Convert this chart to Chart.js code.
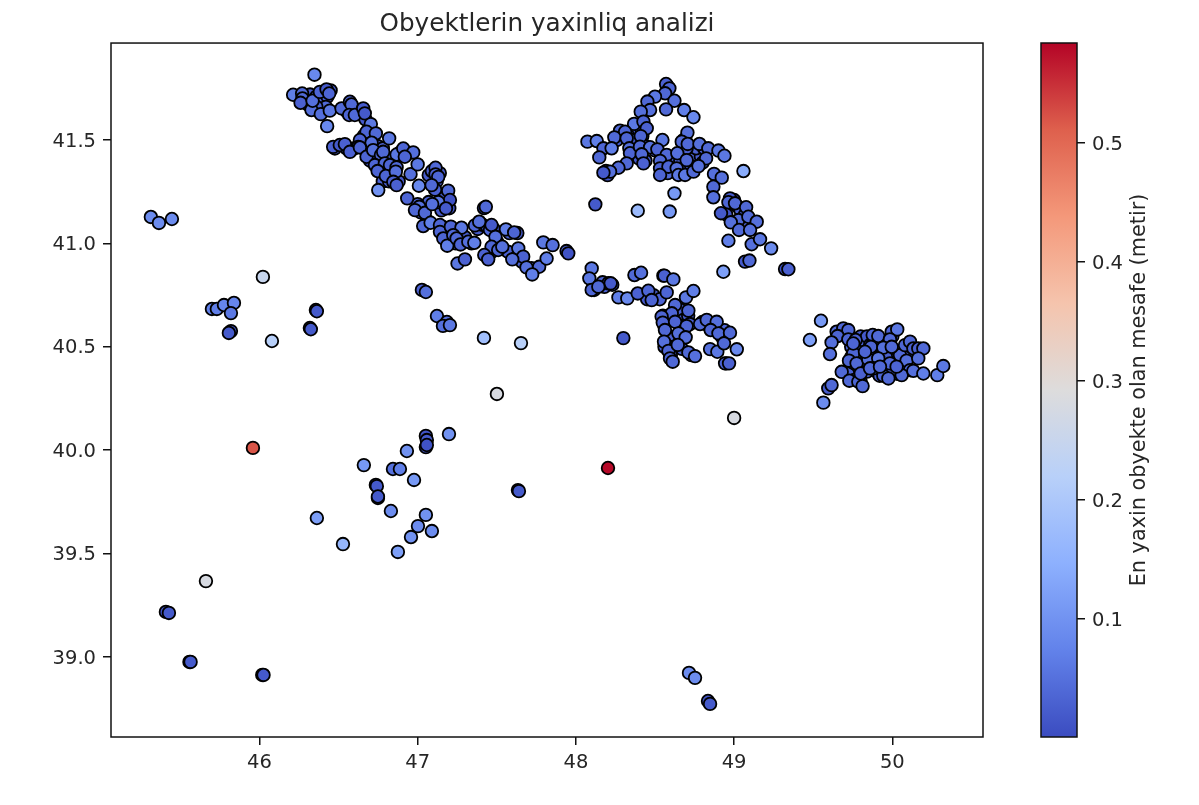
<!DOCTYPE html>
<html>
<head>
<meta charset="utf-8">
<title>Obyektlerin yaxinliq analizi</title>
<script src="https://cdn.jsdelivr.net/npm/chart.js@4"></script>
<style>
    html, body { margin: 0; padding: 0; background: #fff; overflow: hidden; }
    #mapChart { position: absolute; left: 0; top: 0; }
    #barChart { position: absolute; left: 1000px; top: 0; }
</style>
</head>
<body>
<canvas id="mapChart" width="1000" height="805"></canvas>
<canvas id="barChart" width="199" height="805"></canvas>
<script>
// Longitude, latitude, distance to nearest object
const northwestX = [
    46.348, 46.213, 46.270, 46.272, 46.260, 46.329, 46.336, 46.382, 46.424, 46.441,
    46.388, 46.445, 46.428, 46.519, 46.572, 46.582, 46.567, 46.603, 46.656, 46.666,
    46.704, 46.677, 46.736, 46.635, 46.624, 46.709, 46.820, 46.477, 46.466, 46.508,
    46.540, 46.572, 46.635, 46.677, 46.719, 46.768, 46.782, 46.867, 46.909, 46.972,
    46.919, 46.730, 46.793, 46.825, 46.867, 46.747, 46.799, 46.862, 46.846, 46.867,
    46.751, 46.955, 47.000, 47.113, 47.113, 47.130, 47.088, 47.008, 47.193, 47.204,
    46.934, 47.010, 46.983, 47.046, 47.130, 47.092, 47.179, 47.419, 47.431, 47.035,
    47.082, 47.141, 47.141, 47.162, 47.187, 47.210, 47.277, 47.225, 47.246, 47.271,
    47.320, 47.358, 47.362, 47.389, 47.457, 47.467, 47.492, 47.467, 47.509, 47.535,
    47.558, 47.610, 47.636, 47.667, 47.598, 47.421, 47.446, 47.252, 47.299, 47.688,
    47.768, 47.724, 47.815, 47.794, 47.853, 47.941, 47.952
];
const northwestY = [
    41.816, 41.719, 41.725, 41.701, 41.680, 41.645, 41.690, 41.733, 41.745, 41.725,
    41.625, 41.642, 41.567, 41.653, 41.685, 41.672, 41.621, 41.621, 41.653, 41.629,
    41.577, 41.540, 41.532, 41.500, 41.467, 41.487, 41.508, 41.459, 41.467, 41.476,
    41.480, 41.443, 41.464, 41.419, 41.451, 41.427, 41.443, 41.430, 41.459, 41.440,
    41.419, 41.379, 41.387, 41.379, 41.368, 41.350, 41.326, 41.347, 41.298, 41.282,
    41.258, 41.335, 41.382, 41.366, 41.334, 41.322, 41.282, 41.279, 41.255, 41.210,
    41.218, 41.177, 41.161, 41.148, 41.200, 41.190, 41.169, 41.171, 41.177, 41.084,
    41.100, 41.089, 41.056, 41.024, 40.989, 41.081, 41.076, 41.040, 41.024, 40.995,
    41.008, 41.003, 41.087, 41.105, 41.065, 41.089, 41.032, 40.984, 40.968, 40.984,
    41.068, 41.053, 40.976, 40.936, 40.923, 40.944, 40.923, 40.903, 40.923, 40.884,
    40.887, 40.850, 40.927, 41.005, 40.992, 40.963, 40.952
];
const northwestDist = [
    0.085, 0.07, 0.04, 0.04, 0.03, 0.05, 0.05, 0.035, 0.02, 0.035,
    0.05, 0.06, 0.085, 0.04, 0.03, 0.04, 0.035, 0.04, 0.02, 0.02,
    0.06, 0.035, 0.04, 0.03, 0.035, 0.05, 0.06, 0.02, 0.03, 0.02,
    0.03, 0.03, 0.035, 0.035, 0.05, 0.04, 0.04, 0.06, 0.035, 0.05,
    0.035, 0.035, 0.04, 0.035, 0.04, 0.035, 0.035, 0.05, 0.03, 0.03,
    0.10, 0.05, 0.06, 0.04, 0.03, 0.035, 0.04, 0.085, 0.04, 0.01,
    0.035, 0.05, 0.04, 0.04, 0.06, 0.05, 0.02, 0.02, 0.04, 0.04,
    0.07, 0.035, 0.035, 0.035, 0.07, 0.035, 0.06, 0.04, 0.04, 0.035,
    0.05, 0.07, 0.035, 0.05, 0.04, 0.02, 0.05, 0.035, 0.035, 0.05,
    0.07, 0.035, 0.06, 0.03, 0.05, 0.03, 0.03, 0.06, 0.03, 0.05,
    0.04, 0.07, 0.07, 0.06, 0.05, 0.03, 0.01
];

const northX = [
    48.570, 48.591, 48.564, 48.500, 48.452, 48.623, 48.469, 48.410, 48.570, 48.684,
    48.743, 48.368, 48.427, 48.448, 48.279, 48.311, 48.243, 48.321, 48.410, 48.547,
    48.705, 48.669, 48.073, 48.132, 48.174, 48.226, 48.148, 48.338, 48.342, 48.405,
    48.469, 48.515, 48.416, 48.574, 48.641, 48.707, 48.781, 48.837, 48.823, 48.700,
    48.901, 48.939, 48.427, 48.321, 48.269, 48.216, 48.174, 48.532, 48.532, 48.585,
    48.637, 48.532, 48.648, 48.690, 48.743, 48.775, 48.873, 48.922, 48.869, 48.869,
    49.059, 48.623, 48.391, 48.593, 48.123, 48.974, 48.964, 49.006, 49.076, 48.917,
    49.027, 48.979, 49.090, 49.143, 49.031, 49.101, 48.964, 49.111, 49.164, 49.234,
    49.069, 49.097, 49.322, 49.343, 48.932
];
const northY = [
    41.771, 41.750, 41.726, 41.710, 41.686, 41.690, 41.645, 41.637, 41.648, 41.645,
    41.610, 41.578, 41.589, 41.557, 41.545, 41.540, 41.513, 41.508, 41.519, 41.500,
    41.536, 41.492, 41.492, 41.495, 41.460, 41.460, 41.416, 41.460, 41.436, 41.468,
    41.465, 41.455, 41.431, 41.428, 41.436, 41.481, 41.481, 41.460, 41.411, 41.403,
    41.449, 41.424, 41.387, 41.387, 41.366, 41.347, 41.342, 41.399, 41.363, 41.371,
    41.363, 41.331, 41.331, 41.331, 41.347, 41.374, 41.336, 41.318, 41.274, 41.223,
    41.350, 41.242, 41.158, 41.154, 41.189, 41.218, 41.199, 41.194, 41.175, 41.146,
    41.113, 41.102, 41.129, 41.105, 41.065, 41.065, 41.013, 40.996, 41.020, 40.976,
    40.912, 40.917, 40.876, 40.875, 40.863
];
const northDist = [
    0.03, 0.035, 0.04, 0.06, 0.04, 0.05, 0.05, 0.05, 0.04, 0.07,
    0.085, 0.06, 0.035, 0.03, 0.04, 0.035, 0.04, 0.035, 0.035, 0.06,
    0.05, 0.04, 0.06, 0.07, 0.035, 0.07, 0.04, 0.05, 0.035, 0.04,
    0.05, 0.035, 0.04, 0.04, 0.05, 0.04, 0.05, 0.04, 0.04, 0.04,
    0.06, 0.06, 0.03, 0.04, 0.04, 0.05, 0.02, 0.04, 0.03, 0.035,
    0.05, 0.035, 0.06, 0.06, 0.04, 0.05, 0.05, 0.05, 0.04, 0.05,
    0.14, 0.11, 0.17, 0.11, 0.02, 0.02, 0.035, 0.04, 0.04, 0.02,
    0.04, 0.05, 0.04, 0.05, 0.04, 0.05, 0.07, 0.05, 0.06, 0.09,
    0.02, 0.04, 0.01, 0.03, 0.12
];

const centralX = [
    48.100, 48.085, 48.115, 48.100, 48.169, 48.205, 48.220, 48.142, 48.269, 48.325,
    48.370, 48.412, 48.553, 48.559, 48.616, 48.391, 48.458, 48.479, 48.574, 48.696,
    48.743, 48.300, 48.627, 48.606, 48.711, 48.542, 48.549, 48.563, 48.627, 48.700,
    48.785, 48.827, 48.890, 48.852, 48.901, 48.974, 48.648, 48.694, 48.557, 48.585,
    48.644, 48.711, 48.753, 48.595, 48.612, 48.848, 48.894, 48.936, 49.017, 48.943,
    48.968
];
const centralY = [
    40.879, 40.831, 40.775, 40.775, 40.812, 40.807, 40.807, 40.791, 40.739, 40.734,
    40.847, 40.858, 40.844, 40.844, 40.826, 40.758, 40.771, 40.726, 40.763, 40.739,
    40.770, 40.542, 40.702, 40.662, 40.675, 40.646, 40.617, 40.581, 40.621, 40.600,
    40.610, 40.630, 40.621, 40.581, 40.565, 40.568, 40.565, 40.546, 40.525, 40.480,
    40.509, 40.473, 40.455, 40.444, 40.428, 40.489, 40.476, 40.517, 40.488, 40.420,
    40.420
];
const centralDist = [
    0.06, 0.06, 0.03, 0.035, 0.035, 0.03, 0.02, 0.04, 0.07, 0.085,
    0.04, 0.05, 0.02, 0.03, 0.06, 0.03, 0.035, 0.035, 0.035, 0.06,
    0.07, 0.02, 0.04, 0.035, 0.035, 0.035, 0.035, 0.04, 0.035, 0.035,
    0.04, 0.04, 0.05, 0.035, 0.04, 0.04, 0.05, 0.05, 0.05, 0.035,
    0.04, 0.04, 0.05, 0.035, 0.04, 0.05, 0.06, 0.04, 0.085, 0.03,
    0.03
];

const eastX = [
    49.549, 49.479, 49.648, 49.690, 49.722, 49.654, 49.616, 49.606, 49.722, 49.768,
    49.876, 49.911, 49.996, 50.031, 49.985, 49.785, 49.865, 49.943, 49.753, 49.726,
    49.774, 49.848, 49.911, 49.985, 50.048, 50.090, 50.080, 50.112, 50.133, 50.164,
    50.196, 50.164, 50.112, 49.680, 49.728, 49.785, 49.800, 49.880, 49.943, 49.975,
    50.059, 50.133, 50.196, 50.284, 50.322, 49.812, 49.595, 49.616, 49.564, 49.996,
    49.859, 50.027, 49.753, 49.827, 49.922
];
const eastY = [
    40.626, 40.533, 40.573, 40.589, 40.581, 40.552, 40.521, 40.465, 40.536, 40.533,
    40.557, 40.552, 40.573, 40.584, 40.536, 40.476, 40.500, 40.496, 40.468, 40.433,
    40.420, 40.439, 40.444, 40.420, 40.460, 40.433, 40.508, 40.525, 40.492, 40.492,
    40.492, 40.444, 40.387, 40.379, 40.336, 40.331, 40.371, 40.396, 40.360, 40.347,
    40.363, 40.384, 40.371, 40.363, 40.407, 40.310, 40.299, 40.315, 40.230, 40.500,
    40.396, 40.404, 40.516, 40.476, 40.404
];
const eastDist = [
    0.11, 0.12, 0.04, 0.035, 0.035, 0.035, 0.05, 0.05, 0.035, 0.03,
    0.035, 0.04, 0.035, 0.06, 0.04, 0.04, 0.035, 0.05, 0.035, 0.035,
    0.04, 0.05, 0.06, 0.04, 0.04, 0.05, 0.035, 0.04, 0.03, 0.03,
    0.04, 0.05, 0.04, 0.04, 0.04, 0.035, 0.03, 0.05, 0.035, 0.04,
    0.04, 0.05, 0.07, 0.07, 0.06, 0.04, 0.02, 0.04, 0.09, 0.04,
    0.04, 0.035, 0.035, 0.035, 0.04
];

const scatterX = [
    45.314, 45.365, 45.447, 45.700, 45.731, 45.776, 45.839, 45.820, 45.820, 45.807,
    46.022, 46.079, 46.357, 46.363, 46.319, 46.325, 47.027, 47.052, 47.122, 47.185,
    47.160, 47.204, 47.419, 47.653, 47.501, 49.000, 45.959, 48.203, 47.052, 47.058,
    47.052, 47.058, 47.198, 46.932, 46.660, 46.844, 46.888, 46.977, 46.736, 46.742,
    46.749, 46.749, 46.831, 47.052, 47.002, 47.090, 46.958, 46.875, 46.363, 46.528,
    47.634, 47.640, 45.662, 45.409, 45.428, 45.558, 45.565, 46.018, 46.026, 48.715,
    48.753, 48.835, 48.848
];
const scatterY = [
    41.128, 41.099, 41.118, 40.683, 40.683, 40.702, 40.712, 40.663, 40.576, 40.567,
    40.838, 40.528, 40.678, 40.672, 40.591, 40.585, 40.775, 40.765, 40.649, 40.620,
    40.601, 40.605, 40.543, 40.518, 40.272, 40.156, 40.011, 39.914, 40.069, 40.049,
    40.015, 40.025, 40.078, 39.996, 39.928, 39.909, 39.909, 39.856, 39.832, 39.826,
    39.769, 39.776, 39.706, 39.687, 39.633, 39.609, 39.580, 39.508, 39.672, 39.546,
    39.807, 39.802, 39.367, 39.218, 39.213, 38.976, 38.976, 38.913, 38.913, 38.923,
    38.899, 38.787, 38.773
];
const scatterDist = [
    0.09, 0.09, 0.09, 0.07, 0.07, 0.08, 0.08, 0.06, 0.01, 0.02,
    0.25, 0.22, 0.01, 0.02, 0.01, 0.02, 0.03, 0.05, 0.07, 0.05,
    0.05, 0.06, 0.18, 0.22, 0.28, 0.28, 0.52, 0.58, 0.01, 0.02,
    0.02, 0.01, 0.10, 0.10, 0.11, 0.05, 0.07, 0.11, 0.01, 0.02,
    0.01, 0.02, 0.09, 0.10, 0.09, 0.09, 0.10, 0.12, 0.12, 0.16,
    0.01, 0.02, 0.28, 0.01, 0.02, 0.01, 0.02, 0.01, 0.02, 0.09,
    0.09, 0.01, 0.02
];

// Objects mostly hidden under others in the dense clusters, drawn first
const hiddenX = [
    46.30, 46.32, 46.36, 46.40, 46.43, 46.45, 46.42, 46.36, 46.31, 46.55,
    46.60, 46.63, 46.65, 46.67, 46.69, 46.72, 46.66, 46.68, 46.60, 46.55,
    46.75, 46.78, 46.80, 46.84, 46.89, 46.93, 46.70, 46.74, 46.76, 46.79,
    46.83, 46.85, 46.88, 46.78, 46.82, 47.07, 47.09, 47.14, 47.12, 47.11,
    47.17, 47.19, 47.20, 47.15, 47.07, 47.02, 47.00, 47.06, 47.16, 47.19,
    47.21, 47.24, 47.30, 47.34, 47.38, 47.41, 47.44, 47.48, 47.50, 47.52,
    47.47, 47.57, 47.62, 47.66, 47.63, 47.58, 47.72,
    48.38, 48.33, 48.28, 48.26, 48.35, 48.37, 48.40, 48.44, 48.41, 48.42,
    48.44, 48.50, 48.54, 48.56, 48.56, 48.54, 48.59, 48.60, 48.58, 48.62,
    48.66, 48.68, 48.71, 48.73, 48.75, 48.79, 48.80, 48.76, 48.68, 48.70,
    48.81, 48.20, 48.19, 48.58, 49.00, 49.02, 49.04, 49.08, 49.07, 49.10,
    49.05, 48.95,
    48.11, 48.18, 48.23, 48.47, 48.45, 48.49, 48.53, 48.60, 48.62, 48.64,
    48.66, 48.68, 48.71, 48.66, 48.68, 48.72, 48.80, 48.84, 48.92, 48.94,
    48.60, 48.62, 48.66, 48.67, 48.73, 48.56, 48.55, 48.56, 48.60, 48.95,
    49.66, 49.69, 49.72, 49.74, 49.78, 49.80, 49.82, 49.84, 49.86, 49.88,
    49.92, 49.95, 49.97, 50.00, 49.78, 49.82, 49.75, 49.79, 49.84, 49.87,
    49.90, 49.93, 49.95, 50.00, 50.02, 50.05, 50.08, 50.10, 50.12, 50.18,
    50.03, 49.98, 49.72, 49.76, 49.80, 49.74, 49.76, 49.92, 49.96
];
const hiddenY = [
    41.70, 41.72, 41.71, 41.69, 41.71, 41.74, 41.66, 41.66, 41.67, 41.64,
    41.65, 41.64, 41.62, 41.60, 41.55, 41.52, 41.52, 41.49, 41.46, 41.46,
    41.47, 41.46, 41.41, 41.41, 41.44, 41.43, 41.40, 41.41, 41.37, 41.35,
    41.35, 41.33, 41.30, 41.30, 41.30, 41.33, 41.35, 41.34, 41.30, 41.26,
    41.22, 41.19, 41.17, 41.16, 41.20, 41.15, 41.19, 41.11, 41.08, 41.05,
    41.02, 41.00, 41.03, 41.00, 41.07, 41.09, 41.08, 41.07, 41.01, 40.99,
    40.96, 40.96, 40.93, 40.91, 41.05, 41.05, 40.88,
    41.53, 41.52, 41.52, 41.50, 41.50, 41.44, 41.41, 41.40, 41.56, 41.52,
    41.47, 41.45, 41.42, 41.40, 41.37, 41.35, 41.40, 41.35, 41.34, 41.39,
    41.40, 41.36, 41.40, 41.37, 41.43, 41.42, 41.39, 41.46, 41.50, 41.46,
    41.46, 41.33, 41.35, 41.76, 41.21, 41.18, 41.16, 41.11, 41.14, 41.10,
    41.09, 41.14,
    40.79, 40.79, 40.80, 40.74, 40.73, 40.75, 40.73, 40.64, 40.67, 40.65,
    40.68, 40.63, 40.65, 40.60, 40.60, 40.61, 40.62, 40.60, 40.55, 40.58,
    40.54, 40.50, 40.53, 40.49, 40.46, 40.60, 40.65, 40.50, 40.46, 40.42,
    40.56, 40.57, 40.56, 40.50, 40.50, 40.55, 40.52, 40.55, 40.51, 40.52,
    40.53, 40.52, 40.53, 40.55, 40.44, 40.43, 40.40, 40.38, 40.38, 40.46,
    40.38, 40.44, 40.40, 40.38, 40.44, 40.41, 40.40, 40.47, 40.50, 40.49,
    40.37, 40.37, 40.37, 40.34, 40.33, 40.45, 40.42, 40.36, 40.45
];
const hiddenDist = [
    0.03, 0.02, 0.03, 0.03, 0.02, 0.02, 0.04, 0.03, 0.03, 0.02,
    0.02, 0.01, 0.01, 0.02, 0.03, 0.02, 0.03, 0.02, 0.02, 0.01,
    0.02, 0.03, 0.02, 0.03, 0.03, 0.03, 0.02, 0.02, 0.03, 0.02,
    0.02, 0.02, 0.02, 0.03, 0.03, 0.02, 0.03, 0.02, 0.03, 0.03,
    0.02, 0.01, 0.02, 0.02, 0.03, 0.03, 0.03, 0.03, 0.03, 0.03,
    0.03, 0.02, 0.02, 0.03, 0.02, 0.03, 0.01, 0.02, 0.03, 0.02,
    0.03, 0.03, 0.02, 0.03, 0.02, 0.03, 0.05,
    0.02, 0.02, 0.02, 0.02, 0.02, 0.03, 0.02, 0.02, 0.02, 0.03,
    0.04, 0.04, 0.03, 0.02, 0.03, 0.03, 0.03, 0.04, 0.04, 0.02,
    0.03, 0.03, 0.03, 0.03, 0.03, 0.03, 0.03, 0.03, 0.03, 0.03,
    0.03, 0.02, 0.03, 0.02, 0.02, 0.03, 0.03, 0.03, 0.03, 0.04,
    0.03, 0.01,
    0.02, 0.03, 0.01, 0.03, 0.02, 0.03, 0.03, 0.02, 0.03, 0.02,
    0.03, 0.02, 0.02, 0.02, 0.02, 0.03, 0.03, 0.03, 0.03, 0.04,
    0.03, 0.02, 0.03, 0.02, 0.03, 0.02, 0.02, 0.03, 0.02, 0.02,
    0.02, 0.02, 0.02, 0.03, 0.03, 0.02, 0.03, 0.02, 0.03, 0.02,
    0.02, 0.03, 0.03, 0.03, 0.02, 0.03, 0.02, 0.03, 0.03, 0.03,
    0.03, 0.03, 0.03, 0.03, 0.03, 0.03, 0.03, 0.03, 0.02, 0.02,
    0.02, 0.03, 0.03, 0.03, 0.02, 0.03, 0.02, 0.03, 0.03
];

const xValues = hiddenX.concat(northwestX, northX, centralX, eastX, scatterX);
const yValues = hiddenY.concat(northwestY, northY, centralY, eastY, scatterY);
const distValues = hiddenDist.concat(northwestDist, northDist, centralDist, eastDist, scatterDist);

const xTickValues = [46, 47, 48, 49, 50];
const yTickValues = [39, 39.5, 40, 40.5, 41, 41.5];
const colorTickValues = [0.1, 0.2, 0.3, 0.4, 0.5];

const chartTitle = 'Obyektlerin yaxinliq analizi';
const colorLabel = 'En yaxin obyekte olan mesafe (metir)';

const xLimits = [45.062, 50.573];
const yLimits = [38.613, 41.969];
const colorLimits = [0.001, 0.584];

// matplotlib coolwarm, sampled every 1/8
const coolwarm = [
    [59, 76, 192], [98, 130, 234], [141, 176, 254], [184, 208, 249], [221, 220, 220],
    [245, 196, 173], [244, 152, 122], [222, 96, 77], [180, 4, 38]
];

function coolwarmColor(t) {
    const pos = Math.min(Math.max(t, 0), 1) * (coolwarm.length - 1);
    const i = Math.min(Math.floor(pos), coolwarm.length - 2);
    const f = pos - i;
    const c = coolwarm[i].map((v, k) => Math.round(v + (coolwarm[i + 1][k] - v) * f));
    return `rgb(${c[0]}, ${c[1]}, ${c[2]})`;
}

function distColor(d) {
    return coolwarmColor((d - colorLimits[0]) / (colorLimits[1] - colorLimits[0]));
}

const tickFont = { family: 'DejaVu Sans', size: 19.5 };
const textColor = '#262626';

// Closed box round the plot area, like matplotlib spines
const framePlugin = {
    id: 'frame',
    afterDraw(chart) {
        const a = chart.chartArea;
        const ctx = chart.ctx;
        ctx.save();
        ctx.strokeStyle = '#111';
        ctx.lineWidth = 1.5;
        ctx.strokeRect(a.left, a.top, a.right - a.left, a.bottom - a.top);
        ctx.restore();
    }
};

// Colorbar label reads bottom to top, which a right axis title does not do
const colorLabelPlugin = {
    id: 'colorLabel',
    afterDraw(chart) {
        const a = chart.chartArea;
        const ctx = chart.ctx;
        ctx.save();
        ctx.translate(140, (a.top + a.bottom) / 2);
        ctx.rotate(-Math.PI / 2);
        ctx.font = '20.8px "DejaVu Sans"';
        ctx.fillStyle = textColor;
        ctx.textAlign = 'center';
        ctx.textBaseline = 'middle';
        ctx.fillText(colorLabel, 0, 0);
        ctx.restore();
    }
};

function axisTicks(digits, padding, labelOffset) {
    return {
        color: textColor,
        font: tickFont,
        autoSkip: false,
        maxRotation: 0,
        padding: padding,
        labelOffset: labelOffset,
        callback: value => value.toFixed(digits)
    };
}

const axisGrid = { drawOnChartArea: false, color: '#111', tickColor: '#111', tickLength: 8, lineWidth: 1.5 };

new Chart(document.getElementById('mapChart'), {
    type: 'scatter',
    plugins: [framePlugin],
    data: {
        datasets: [{
            data: xValues.map((x, i) => ({ x: x, y: yValues[i] })),
            pointRadius: 6.3,
            pointBorderWidth: 1.8,
            pointBorderColor: '#000',
            pointBackgroundColor: distValues.map(distColor)
        }]
    },
    options: {
        responsive: false,
        animation: false,
        layout: { padding: { right: 17 } },
        plugins: {
            legend: { display: false },
            tooltip: { enabled: false },
            title: {
                display: true,
                fullSize: false,
                text: chartTitle,
                color: textColor,
                font: { family: 'DejaVu Sans', size: 24.7, weight: 'normal' },
                padding: { top: 10, bottom: 3.4 }
            }
        },
        scales: {
            x: {
                min: xLimits[0],
                max: xLimits[1],
                afterBuildTicks: scale => { scale.ticks = xTickValues.map(v => ({ value: v })); },
                afterFit: scale => { scale.height = 68; },
                ticks: axisTicks(0, 6, 0),
                grid: axisGrid,
                border: { display: false }
            },
            y: {
                min: yLimits[0],
                max: yLimits[1],
                afterBuildTicks: scale => { scale.ticks = yTickValues.map(v => ({ value: v })); },
                afterFit: scale => { scale.width = 111; },
                ticks: axisTicks(1, 7, 1.5),
                grid: axisGrid,
                border: { display: false }
            }
        }
    }
});

// Colorbar: one floating bar spanning the whole value range
new Chart(document.getElementById('barChart'), {
    type: 'bar',
    plugins: [framePlugin, colorLabelPlugin],
    data: {
        labels: [''],
        datasets: [{
            data: [colorLimits],
            barPercentage: 1,
            categoryPercentage: 1,
            backgroundColor: function(context) {
                const a = context.chart.chartArea;
                if (!a) {
                    return coolwarmColor(0);
                }
                const gradient = context.chart.ctx.createLinearGradient(0, a.bottom, 0, a.top);
                coolwarm.forEach((c, i) => {
                    gradient.addColorStop(i / (coolwarm.length - 1), `rgb(${c[0]}, ${c[1]}, ${c[2]})`);
                });
                return gradient;
            }
        }]
    },
    options: {
        responsive: false,
        animation: false,
        layout: { padding: { left: 41, top: 43, bottom: 68 } },
        plugins: { legend: { display: false }, tooltip: { enabled: false } },
        scales: {
            x: {
                display: false
            },
            y: {
                position: 'right',
                min: colorLimits[0],
                max: colorLimits[1],
                afterBuildTicks: scale => { scale.ticks = colorTickValues.map(v => ({ value: v })); },
                afterFit: scale => { scale.width = 122; },
                ticks: axisTicks(1, 7, 1.5),
                grid: axisGrid,
                border: { display: false }
            }
        }
    }
});
</script>
</body>
</html>
